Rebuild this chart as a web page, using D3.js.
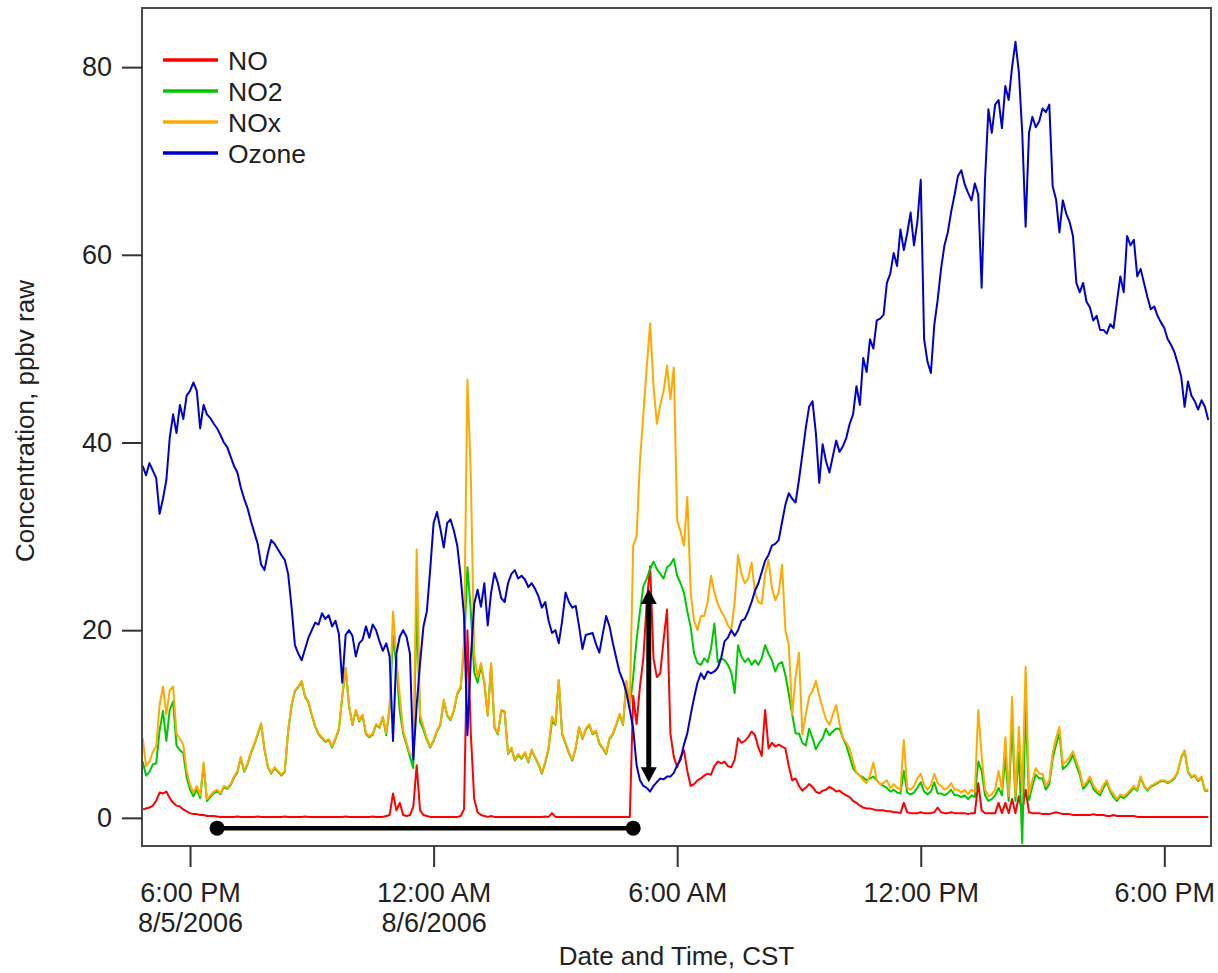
<!DOCTYPE html>
<html>
<head>
<meta charset="utf-8">
<script src="https://cdn.jsdelivr.net/npm/d3@7"></script>
<style>
body{margin:0;background:#fff;}
text{font-family:"Liberation Sans",Arial,Helvetica,sans-serif;fill:#222;}
</style>
</head>
<body>
<svg id="chart" width="1218" height="973"></svg>
<script>
// samples every 5 minutes starting 4:50 PM 8/5/2006, one row per clock hour
var startTime = new Date(2006, 7, 5, 16, 50);
var stepMinutes = 5;

var noValues = [
 0.9, 1,
 1.1, 1.3, 1.8, 2.7, 2.6, 2.8, 2.1, 1.6, 1.3, 1.2, 0.9, 0.7,
 0.5, 0.4, 0.4, 0.3, 0.3, 0.2, 0.2, 0.2, 0.15, 0.1, 0.1, 0.1,
 0.1, 0.1, 0.15, 0.1, 0.1, 0.1, 0.1, 0.1, 0.15, 0.1, 0.1, 0.1,
 0.1, 0.1, 0.1, 0.1, 0.15, 0.1, 0.1, 0.1, 0.1, 0.1, 0.15, 0.1,
 0.1, 0.1, 0.1, 0.1, 0.1, 0.1, 0.1, 0.1, 0.1, 0.1, 0.15, 0.1,
 0.1, 0.1, 0.1, 0.1, 0.1, 0.1, 0.15, 0.1, 0.1, 0.1, 0.2, 0.3,
 2.6, 0.8, 1.6, 0.3, 0.2, 0.3, 1.2, 5.6, 0.8, 0.3, 0.2, 0.1,
 0.1, 0.1, 0.1, 0.1, 0.1, 0.1, 0.1, 0.1, 0.2, 0.9, 20, 9,
 2, 0.6, 0.3, 0.2, 0.1, 0.2, 0.1, 0.1, 0.1, 0.1, 0.1, 0.1,
 0.1, 0.1, 0.1, 0.1, 0.1, 0.1, 0.1, 0.1, 0.1, 0.15, 0.1, 0.5,
 0.1, 0.1, 0.1, 0.1, 0.1, 0.1, 0.1, 0.1, 0.1, 0.1, 0.1, 0.1,
 0.1, 0.1, 0.1, 0.1, 0.1, 0.1, 0.1, 0.1, 0.1, 0.1, 0.1, 13,
 10, 14, 17, 23, 26.8, 17, 15, 15.4, 19, 22.2, 9, 6.5,
 5.4, 6.5, 7.2, 5, 3.4, 3.6, 4, 4.2, 4.5, 4.7, 4.6, 5.5,
 6, 5.8, 6, 5.5, 5.4, 6.2, 8.5, 8, 8.2, 8.6, 9.2, 8.8,
 7.5, 6.6, 11.5, 7.4, 8, 7.6, 7.8, 7.6, 7.4, 5.5, 4, 4.2,
 3.4, 2.9, 3.2, 3.6, 3.3, 2.8, 2.6, 2.9, 3, 3.3, 3.1, 2.8,
 2.9, 2.6, 2.4, 2.2, 1.8, 1.6, 1.3, 1.1, 1, 1, 0.9, 0.8,
 0.8, 0.8, 0.7, 0.7, 0.6, 0.6, 0.5, 1.6, 0.6, 0.5, 0.5, 0.5,
 0.6, 0.5, 0.5, 0.5, 0.6, 1.1, 0.6, 0.5, 0.5, 0.6, 0.5, 0.5,
 0.5, 0.5, 0.4, 0.5, 0.5, 3.7, 0.8, 0.5, 0.5, 0.5, 0.5, 1.6,
 0.5, 1.6, 0.5, 2, 0.5, 2.3, 0.6, 3, 0.6, 0.5, 0.5, 0.5,
 0.4, 0.4, 0.4, 0.5, 0.6, 0.5, 0.4, 0.4, 0.4, 0.3, 0.3, 0.3,
 0.3, 0.3, 0.3, 0.4, 0.3, 0.3, 0.3, 0.2, 0.2, 0.3, 0.2, 0.2,
 0.2, 0.2, 0.2, 0.2, 0.1, 0.1, 0.1, 0.1, 0.1, 0.1, 0.1, 0.1,
 0.1, 0.1, 0.1, 0.1, 0.1, 0.1, 0.1, 0.1, 0.1, 0.1, 0.1, 0.1,
 0.1, 0.1
];

var no2Values = [
 6, 4.5,
 4.9, 5.7, 5.8, 9.3, 11.4, 8.2, 11.5, 12.4, 7.7, 7.2, 6.9, 4.3,
 3, 2.3, 3, 2.1, 5.6, 1.8, 2.2, 2.6, 2.85, 2.5, 3.3, 3.1,
 3.5, 4.3, 4.85, 6.4, 4.9, 5.7, 6.9, 7.8, 8.85, 10, 7.3, 5.4,
 4.7, 5.3, 4.9, 4.5, 4.9, 9.2, 11.9, 13.5, 13.9, 14.5, 12.9, 12.3,
 10.9, 9.7, 8.9, 8.5, 8.1, 8.3, 7.5, 8.4, 9.4, 12.9, 15.9, 11.9,
 9.9, 11.4, 10.3, 10.9, 8.9, 8.6, 8.85, 9.9, 9.6, 10.7, 8.8, 11.7,
 19.4, 16.2, 11.4, 9, 7.8, 6.5, 5.3, 23, 10.2, 9.4, 8.3, 7.5,
 8.2, 9.2, 9.9, 12.5, 10.9, 10.4, 11.4, 13.2, 13.8, 18.1, 26.7, 22,
 15.5, 14.4, 16.2, 14.3, 10.9, 16.3, 9.6, 8.9, 11.4, 11.3, 6.8, 7.4,
 6.1, 6.7, 6.3, 6.9, 5.9, 7.2, 6.4, 5.7, 4.7, 5.85, 7.4, 10.3,
 9.9, 14.6, 8.9, 7.9, 6.9, 6.1, 7.4, 9.6, 8.4, 9.4, 9.9, 8.9,
 9.2, 7.9, 7.4, 6.8, 8.4, 8.9, 9.9, 11, 9.9, 14.5, 11.9, 15,
 19, 22, 24.7, 25.5, 26.5, 27.3, 26.5, 26, 25.5, 26.7, 27, 27.6,
 25.8, 25, 24, 22, 20.3, 17.5, 16.5, 16.3, 17, 16.6, 18, 20.7,
 16.6, 17, 16.8, 16.3, 15.5, 13.3, 18.4, 17.2, 16.6, 17, 16.3, 16.8,
 16.3, 17, 18.4, 17.5, 16.8, 15.6, 16.4, 16.6, 15.2, 13.2, 11, 9,
 9, 8, 7.7, 9.5, 8.5, 7.3, 8, 8.5, 9.5, 8.8, 9.2, 9.5,
 9.5, 8.5, 7.7, 6.5, 5.3, 4.8, 4.5, 4.3, 4, 4.2, 4.4, 4,
 3.6, 3.4, 3.2, 2.8, 3, 2.7, 2.6, 5, 2.7, 2.5, 2.7, 3.2,
 3.8, 2.8, 2.5, 2.8, 3.8, 2.6, 2.6, 2.4, 2.6, 3, 2.4, 2.4,
 2.2, 2.4, 2, 2.4, 2.2, 6, 5, 2.4, 1.8, 2, 2.4, 3.2,
 2.4, 6.5, 1.8, 10, 1.8, 7, -2.7, 12, 1.9, 3.4, 4.6, 4.2,
 4.2, 3, 3.6, 6.3, 7.8, 9, 5.2, 5.5, 6, 6.7, 5.6, 4.6,
 3.1, 3.5, 4.1, 3.1, 2.7, 2.4, 3.2, 3.8, 2.8, 2.2, 1.8, 2.3,
 2.1, 2.4, 2.8, 3.2, 2.9, 4.3, 3.4, 2.9, 3.3, 3.5, 3.7, 3.9,
 3.9, 3.7, 3.9, 4.2, 4.9, 6.4, 7.1, 4.9, 4.3, 4.5, 3.9, 4.3,
 2.9, 2.9
];

var noxValues = [
 8.5, 5.5,
 6, 7, 7.6, 12, 14, 11, 13.6, 14, 9, 8.4, 7.8, 5,
 3.5, 2.7, 3.4, 2.4, 5.9, 2, 2.4, 2.8, 3, 2.6, 3.4, 3.2,
 3.6, 4.4, 5, 6.5, 5, 5.8, 7, 7.9, 9, 10.1, 7.4, 5.5,
 4.8, 5.4, 5, 4.6, 5, 9.3, 12, 13.6, 14, 14.6, 13, 12.4,
 11, 9.8, 9, 8.6, 8.2, 8.4, 7.6, 8.5, 9.5, 13, 16, 12,
 10, 11.5, 10.4, 11, 9, 8.7, 9, 10, 9.7, 10.8, 9, 12,
 22, 17, 13, 9.3, 8, 6.8, 6.5, 28.6, 11, 9.7, 8.5, 7.6,
 8.3, 9.3, 10, 12.6, 11, 10.5, 11.5, 13.3, 14, 19, 46.7, 36.4,
 17.5, 15, 16.5, 14.5, 11, 16.5, 9.7, 9, 11.5, 11.4, 6.9, 7.5,
 6.2, 6.8, 6.4, 7, 6, 7.3, 6.5, 5.8, 4.8, 6, 7.5, 10.8,
 10, 14.7, 9, 8, 7, 6.2, 7.5, 9.7, 8.5, 9.5, 10, 9,
 9.3, 8, 7.5, 6.9, 8.5, 9, 10, 11.1, 10, 14.6, 12, 29,
 30, 38, 43, 48, 52.7, 46, 42, 44, 45.5, 48.2, 44.6, 48,
 31.7, 30.5, 29, 34.2, 24, 21, 20, 21.5, 21.5, 23, 25.8, 24,
 22.8, 22, 21.4, 20.5, 20, 23, 28, 26, 25, 25.5, 27.2, 24,
 23, 22.8, 26, 27.5, 24.5, 23.2, 24, 27, 20, 18.4, 11, 15,
 17.6, 8.9, 11, 12.9, 13.5, 14.6, 13, 11.7, 10.5, 9.9, 11, 12,
 10, 8.5, 8, 7.4, 6, 4.8, 4.5, 4, 3.7, 4.5, 5.9, 4,
 3.6, 3.7, 4, 3.2, 3.6, 3.2, 3, 8.3, 3.2, 3, 3.4, 4.2,
 4.7, 3.5, 3, 3.5, 4.7, 3.7, 3.4, 3, 3.2, 3.7, 3, 3,
 2.7, 3, 2.5, 3, 2.8, 11.5, 6.6, 3, 2.3, 2.5, 3, 5,
 3, 8.6, 2.3, 12.9, 2.3, 9.7, 2.7, 16.1, 2.5, 4, 5.3, 4.7,
 4.7, 3.4, 4, 6.9, 8.5, 9.7, 5.7, 6, 6.5, 7.1, 6, 5,
 3.4, 3.8, 4.4, 3.5, 3, 2.7, 3.5, 4, 3, 2.5, 2, 2.5,
 2.3, 2.6, 3, 3.4, 3, 4.4, 3.5, 3, 3.4, 3.6, 3.8, 4,
 4, 3.8, 4, 4.3, 5, 6.5, 7.2, 5, 4.4, 4.6, 4, 4.4,
 3, 3
];

var ozoneValues = [
 37.5, 36.5,
 37.8, 37, 36.2, 32.4, 34, 36, 40.5, 43, 41, 44, 42.5, 45,
 45.5, 46.4, 45.5, 41.5, 44, 43, 42.6, 42, 41.5, 40.8, 40, 39.5,
 38.5, 37.5, 36.8, 35.2, 34, 33, 31.6, 30.4, 29.2, 27, 26.4, 28.2,
 29.6, 29.2, 28.6, 28, 27.5, 26, 22.5, 18.4, 17.5, 16.8, 18, 19.2,
 20, 20.8, 20.6, 21.8, 21.2, 21.6, 20.4, 21, 19.6, 14.4, 19.5, 20,
 19.4, 17.2, 18.6, 19, 20.4, 19.2, 20.6, 20, 18.8, 17.8, 18.6, 17.2,
 8.2, 17.5, 19.3, 20, 19.3, 17.5, 6.2, 12, 16.5, 20.4, 22, 26.5,
 31.4, 32.6, 30.8, 28.8, 31.4, 31.8, 30.6, 29, 25.7, 21.5, 8.8, 17,
 22.8, 24.3, 22.5, 25, 20.5, 24, 26.1, 25, 23.4, 23, 25, 26,
 26.4, 25.5, 25.8, 25.4, 24.6, 25, 24.4, 23.6, 22.4, 23, 21, 19.7,
 20, 18.6, 21, 24, 23, 22.4, 22.6, 20.4, 18, 19.5, 19.6, 19.7,
 18.5, 17.6, 19.6, 21.5, 20.4, 18.6, 17, 15.5, 14.6, 13.3, 11.5, 9.5,
 5.6, 4, 3.4, 3.2, 2.8, 3.4, 3.8, 4.2, 4.1, 4.4, 4.4, 4.8,
 5.6, 6.2, 7.8, 9, 11, 12.8, 14.4, 15.4, 14.8, 15.6, 15.4, 15.6,
 16, 17, 18.8, 19.2, 20, 19.4, 20, 21, 21.2, 22, 23, 24.2,
 25, 26.2, 27.4, 28, 29, 29.2, 29.6, 31.5, 33.4, 34.6, 34, 33.6,
 36, 38.7, 41.5, 43.8, 44.4, 41, 35.7, 39.8, 38, 36.8, 38.5, 40.2,
 39, 39.6, 40.5, 42, 43, 46, 44, 49, 47.5, 51, 50, 53,
 53.2, 53.6, 57, 58, 60.2, 58.8, 62.7, 60.5, 62.3, 64.5, 61, 63.5,
 68, 51, 48.6, 47.4, 52.5, 55.2, 58.5, 61, 62.4, 64.6, 66.4, 68.4,
 69, 67.5, 66.6, 65.8, 67.6, 66.4, 56.5, 68, 75.5, 73, 76, 76.5,
 73.5, 78, 76.5, 80, 82.7, 79.5, 73, 63, 73, 74.7, 73.6, 74.2,
 75.6, 75.2, 76, 67.3, 65.9, 62.4, 65.8, 64.4, 63.5, 62, 57, 56,
 57, 55, 54.4, 53, 53.5, 52, 52, 51.6, 52.6, 52.2, 55, 57.7,
 56, 62, 61, 61.6, 57.7, 58.5, 57, 55.5, 54.2, 54.5, 53.5, 52.8,
 52.2, 51, 50.4, 49.6, 48.4, 47, 43.8, 46.5, 45, 44.4, 43.5, 44.5,
 43.8, 42.4
];

var seriesNames = ["NO", "NO2", "NOx", "Ozone"];
var seriesColors = ["#ff0000", "#00c800", "#ffaa00", "#0000cc"];

var yTicks = [0, 20, 40, 60, 80];
var xTickTimes = [new Date(2006, 7, 5, 18), new Date(2006, 7, 6, 0), new Date(2006, 7, 6, 6),
                  new Date(2006, 7, 6, 12), new Date(2006, 7, 6, 18)];
var xTickLines1 = ["6:00 PM", "12:00 AM", "6:00 AM", "12:00 PM", "6:00 PM"];
var xTickLines2 = ["8/5/2006", "8/6/2006", "", "", ""];

// annotations, in data units
var spanTimes = [new Date(2006, 7, 5, 18, 40), new Date(2006, 7, 6, 4, 55)];
var spanLevel = -1.1;
var arrowTime = new Date(2006, 7, 6, 5, 18);
var arrowLevels = [24.4, 3.8];

var screen = {width: 1218, height: 973};
var plot = {left: 142, right: 1211, top: 8, bottom: 846};

var xScale = d3.scaleTime()
    .domain([new Date(2006, 7, 5, 16, 49), new Date(2006, 7, 6, 19, 9)])
    .range([plot.left, plot.right]);
var yScale = d3.scaleLinear()
    .domain([-3, 86.3])
    .range([plot.bottom, plot.top]);

var timeAt = function(i){
    return d3.timeMinute.offset(startTime, i * stepMinutes);
};

var svg = d3.select("#chart")
    .attr("width", screen.width)
    .attr("height", screen.height);

svg.append("defs").append("clipPath")
    .attr("id", "plotclip")
    .append("rect")
    .attr("x", plot.left)
    .attr("y", plot.top)
    .attr("width", plot.right - plot.left)
    .attr("height", plot.bottom - plot.top);

var line = d3.line()
    .x(function(d, i){ return xScale(timeAt(i)); })
    .y(function(d){ return yScale(d); });

var allSeries = [noValues, no2Values, noxValues, ozoneValues];

svg.append("g")
    .attr("clip-path", "url(#plotclip)")
    .selectAll("path")
    .data(allSeries)
    .enter()
    .append("path")
    .attr("d", line)
    .attr("fill", "none")
    .attr("stroke", function(d, i){ return seriesColors[i]; })
    .attr("stroke-width", 2)
    .attr("stroke-linejoin", "round");

// frame
svg.append("rect")
    .attr("x", plot.left)
    .attr("y", plot.top)
    .attr("width", plot.right - plot.left)
    .attr("height", plot.bottom - plot.top)
    .attr("fill", "none")
    .attr("stroke", "#4a4a4a")
    .attr("stroke-width", 2);

// y axis
var yAxis = svg.append("g")
    .attr("transform", "translate(" + plot.left + ",0)")
    .call(d3.axisLeft(yScale).tickValues(yTicks).tickSize(20).tickPadding(10));
yAxis.select(".domain").remove();
yAxis.selectAll(".tick line").attr("stroke", "#333").attr("stroke-width", 2);
yAxis.selectAll(".tick text")
    .attr("font-size", 27)
    .attr("font-family", "'Liberation Sans', Arial, sans-serif")
    .attr("fill", "#222");

// x axis
var xAxis = svg.append("g")
    .attr("transform", "translate(0," + plot.bottom + ")")
    .call(d3.axisBottom(xScale).tickValues(xTickTimes).tickSize(21).tickPadding(16)
        .tickFormat(function(d, i){ return xTickLines1[i]; }));
xAxis.select(".domain").remove();
xAxis.selectAll(".tick line").attr("stroke", "#333").attr("stroke-width", 2);
xAxis.selectAll(".tick text")
    .attr("font-size", 27)
    .attr("font-family", "'Liberation Sans', Arial, sans-serif")
    .attr("fill", "#222")
    .each(function(d, i){
        if (xTickLines2[i]) {
            d3.select(this).append("tspan")
                .attr("x", 0)
                .attr("dy", "1.11em")
                .text(xTickLines2[i]);
        }
    });

// axis titles
svg.append("text")
    .attr("x", (plot.left + plot.right) / 2)
    .attr("y", 965)
    .attr("text-anchor", "middle")
    .attr("font-size", 26)
    .text("Date and Time, CST");

svg.append("text")
    .attr("transform", "translate(34,421) rotate(-90)")
    .attr("text-anchor", "middle")
    .attr("font-size", 26)
    .text("Concentration, ppbv raw");

// legend
var legend = svg.append("g").attr("transform", "translate(163,60)");
var legendRows = legend.selectAll("g")
    .data(seriesNames)
    .enter()
    .append("g")
    .attr("transform", function(d, i){ return "translate(0," + (i * 31) + ")"; });
legendRows.append("line")
    .attr("x1", 0).attr("x2", 55)
    .attr("y1", 0).attr("y2", 0)
    .attr("stroke", function(d, i){ return seriesColors[i]; })
    .attr("stroke-width", 3.5);
legendRows.append("text")
    .attr("x", 65)
    .attr("y", 9.5)
    .attr("font-size", 26.5)
    .text(function(d){ return d; });

// annotations: bracket line with dots and double arrow
var ann = svg.append("g");
ann.append("line")
    .attr("x1", xScale(spanTimes[0]))
    .attr("x2", xScale(spanTimes[1]))
    .attr("y1", yScale(spanLevel))
    .attr("y2", yScale(spanLevel))
    .attr("stroke", "#000")
    .attr("stroke-width", 4.5);
ann.selectAll("circle")
    .data(spanTimes)
    .enter()
    .append("circle")
    .attr("cx", function(d){ return xScale(d); })
    .attr("cy", yScale(spanLevel))
    .attr("r", 7.5)
    .attr("fill", "#000");

var ax = xScale(arrowTime);
var yTop = yScale(arrowLevels[0]);
var yBot = yScale(arrowLevels[1]);
var head = 15, half = 8;
ann.append("line")
    .attr("x1", ax).attr("x2", ax)
    .attr("y1", yTop + head - 2).attr("y2", yBot - head + 2)
    .attr("stroke", "#000")
    .attr("stroke-width", 5);
ann.append("path")
    .attr("d", "M" + ax + "," + yTop + "L" + (ax - half) + "," + (yTop + head) + "L" + (ax + half) + "," + (yTop + head) + "Z")
    .attr("fill", "#000");
ann.append("path")
    .attr("d", "M" + ax + "," + yBot + "L" + (ax - half) + "," + (yBot - head) + "L" + (ax + half) + "," + (yBot - head) + "Z")
    .attr("fill", "#000");
</script>
</body>
</html>
